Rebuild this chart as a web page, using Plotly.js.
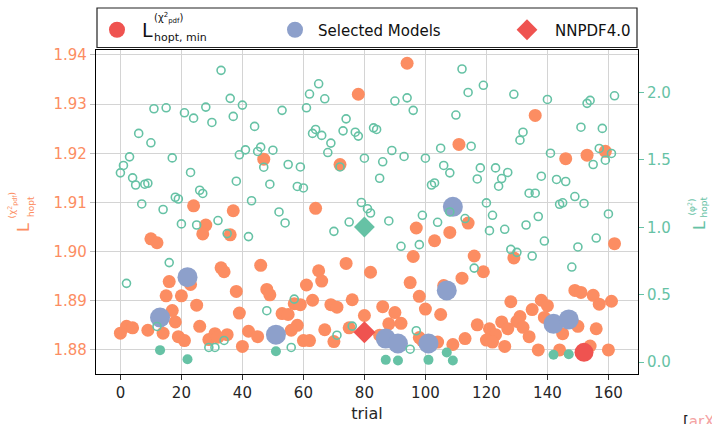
<!DOCTYPE html>
<html>
<head>
<meta charset="utf-8">
<script src="https://cdn.plot.ly/plotly-3.0.1.min.js"></script>
<style>
  html, body { margin: 0; padding: 0; background: #ffffff; }
  #chart { width: 712px; height: 424px; }
</style>
</head>
<body>
<div id="chart"></div>
<script>
// ---------------- data ----------------
// L_hopt^(chi2_pdf) for every trial (left axis, orange filled circles)
const chiTrials = [47,24,37,28,27,36,10,12,33,34,46,16,23,15,20,38,48,49,25,39,17,18,2,4,0,9,14,26,19,21,29,31,32,35,40,42,45,
  94,78,72,64,111,97,103,108,96,74,65,66,82,61,95,106,98,63,76,69,71,57,59,86,100,105,90,92,88,80,53,55,58,56,67,75,60,62,70,85,98,99,104,109,
  136,146,153,159,114,162,116,129,119,112,128,149,151,155,157,161,138,140,135,131,130,132,139,117,121,125,127,123,120,122,134,150,156,145,113,126,137,144,154,160];
const chiLoss = [1.9188,1.9093,1.9083,1.9054,1.9036,1.9034,1.9026,1.9018,1.8967,1.8959,1.8972,1.8939,1.8933,1.8910,1.8910,1.8919,1.8923,1.8912,1.8891,1.8875,1.8880,1.8857,1.8848,1.8845,1.8834,1.8840,1.8834,1.8848,1.8827,1.8819,1.8821,1.8833,1.8826,1.8831,1.8807,1.8838,1.8827,
  1.9383,1.9320,1.9177,1.9088,1.9218,1.9048,1.9022,1.9039,1.8990,1.8976,1.8961,1.8940,1.8958,1.8932,1.8937,1.8931,1.8909,1.8901,1.8902,1.8892,1.8887,1.8894,1.8892,1.8888,1.8883,1.8872,1.8876,1.8854,1.8853,1.8870,1.8874,1.8872,1.8850,1.8840,1.8841,1.8845,1.8819,1.8819,1.8817,1.8830,1.8825,1.8819,1.8816,1.8811,
  1.9277,1.9189,1.9196,1.9204,1.9058,1.9016,1.8991,1.8987,1.8959,1.8946,1.8898,1.8921,1.8917,1.8911,1.8893,1.8899,1.8901,1.8890,1.8882,1.8868,1.8858,1.8846,1.8866,1.8851,1.8843,1.8857,1.8843,1.8831,1.8820,1.8816,1.8827,1.8848,1.8843,1.8833,1.8823,1.8807,1.8800,1.8800,1.8808,1.8800];

// L_hopt^(phi2) for every trial (right axis, green open circles)
const phiTrials = [33,36,40,28,37,30,24,21,15,11,44,6,10,3,1,0,4,5,8,9,17,23,26,27,18,19,7,14,38,43,39,41,45,46,50,47,49,20,25,32,35,42,52,16,2,12,48,29,31,34,
  65,62,67,53,61,74,64,63,66,73,77,78,83,84,69,68,90,94,96,89,93,80,86,100,105,106,108,110,55,59,72,85,102,103,58,60,79,81,82,54,75,70,88,99,104,92,98,108,57,76,71,56,97,95,
  112,119,114,129,140,153,154,162,132,131,151,158,115,141,157,161,159,155,118,117,123,127,125,124,138,143,146,134,136,149,152,120,144,145,122,113,121,126,133,137,160,156,139,150,128,130,135,116,148];
const phiLoss = [2.165,1.957,1.907,1.892,1.823,1.778,1.810,1.850,1.887,1.880,1.749,1.697,1.627,1.523,1.459,1.404,1.367,1.314,1.320,1.327,1.515,1.407,1.275,1.251,1.223,1.210,1.173,1.132,1.342,1.197,1.538,1.575,1.563,1.595,1.572,1.446,1.320,1.025,1.017,1.050,0.953,0.931,1.114,0.738,0.584,0.264,0.381,0.108,0.108,0.160,
  2.065,1.989,1.954,1.868,1.887,1.805,1.726,1.697,1.682,1.716,1.706,1.677,1.738,1.726,1.625,1.555,1.937,1.961,1.868,1.570,1.526,1.513,1.486,1.513,1.587,1.459,1.404,1.833,1.466,1.448,1.448,1.364,1.314,1.329,1.303,1.292,1.184,1.138,1.106,1.032,1.039,0.970,1.047,1.089,1.037,0.859,0.871,1.114,0.467,0.266,0.199,0.108,0.232,0.095,
  2.175,2.054,2.001,1.987,1.949,1.920,1.942,1.976,1.706,1.647,1.743,1.734,1.602,1.550,1.585,1.548,1.498,1.466,1.441,1.359,1.441,1.407,1.362,1.305,1.379,1.355,1.340,1.253,1.253,1.228,1.177,1.181,1.171,1.182,1.089,1.065,0.975,0.985,1.017,1.080,1.099,0.920,0.898,0.854,0.836,0.814,0.787,0.697,0.705];

// Selected models
const selTrials = [13,22,51,87,91,101,107,109,142,147];
const selChi    = [1.8866,1.8948,1.8831,1.8823,1.8813,1.8813,1.8921,1.9091,1.8853,1.8862];
const selPhi    = [0.088,0.021,0.080,0.016,0.011,0.016,0.071,0.011,0.054,0.058];

// Minimum of L_hopt^(chi2_pdf)
const minTrial = [152];
const minChi   = [1.8795];

// NNPDF4.0 reference
const nnpdfTrial = [80];
const nnpdfChi   = [1.8836];
const nnpdfPhi   = [1.002];

// tick labels
const xTicks = [0,20,40,60,80,100,120,140,160];
const yTicks = [1.88,1.89,1.90,1.91,1.92,1.93,1.94];
const yTickText = ['1.88','1.89','1.90','1.91','1.92','1.93','1.94'];
const y2Ticks = [0,0.5,1.0,1.5,2.0];
const y2TickText = ['0.0','0.5','1.0','1.5','2.0'];

// ---------------- styling ----------------
const ORANGE = '#fc8d62', GREEN = '#66c2a5', BLUE = '#8da0cb', RED = '#ef5350';
const FONT = 'DejaVu Sans, sans-serif';
const M = {l: 96, r: 74, t: 50, b: 50};
const W = 712, H = 424;
const PW = W - M.l - M.r, PH = H - M.t - M.b;
const px = x => (x - M.l) / PW;      // pixel -> paper (layout placement only)
const py = y => (H - M.b - y) / PH;

const traces = [
  {x: chiTrials, y: chiLoss, type: 'scatter', mode: 'markers', yaxis: 'y', showlegend: false,
   marker: {color: ORANGE, size: 13, line: {width: 0}}, hoverinfo: 'skip'},
  {x: selTrials, y: selChi, type: 'scatter', mode: 'markers', yaxis: 'y', name: 'Selected Models',
   legend: 'legend2', marker: {color: BLUE, size: 20, line: {width: 0}}},
  {x: nnpdfTrial, y: nnpdfChi, type: 'scatter', mode: 'markers', yaxis: 'y', name: 'NNPDF4.0',
   legend: 'legend3', marker: {color: RED, size: 17, symbol: 'diamond', line: {width: 0}}},
  {x: minTrial, y: minChi, type: 'scatter', mode: 'markers', yaxis: 'y', name: ' ',
   legend: 'legend', marker: {color: RED, size: 19, line: {width: 0}}},
  {x: phiTrials, y: phiLoss, type: 'scatter', mode: 'markers', yaxis: 'y2', showlegend: false,
   marker: {color: GREEN, size: 8, symbol: 'circle-open', line: {width: 1.6, color: GREEN}}},
  {x: selTrials, y: selPhi, type: 'scatter', mode: 'markers', yaxis: 'y2', showlegend: false,
   marker: {color: GREEN, size: 10, line: {width: 0}}},
  {x: nnpdfTrial, y: nnpdfPhi, type: 'scatter', mode: 'markers', yaxis: 'y2', showlegend: false,
   marker: {color: GREEN, size: 16, symbol: 'diamond', line: {width: 0}}}
];

const legendCommon = {orientation: 'h', yanchor: 'middle', y: py(30), xanchor: 'left',
  bgcolor: 'rgba(0,0,0,0)', borderwidth: 0, font: {family: FONT, size: 15, color: '#111'}};

const ann = (text, x, y, size, color, angle, xanchor) => ({
  text: text, xref: 'paper', yref: 'paper', x: px(x), y: py(y), xanchor: xanchor || 'center', yanchor: 'middle',
  showarrow: false, textangle: angle || 0, font: {family: FONT, size: size, color: color}
});

const layout = {
  width: W, height: H, margin: M,
  paper_bgcolor: '#ffffff', plot_bgcolor: '#ffffff',
  font: {family: FONT, size: 15, color: '#262626'},
  showlegend: true,
  xaxis: {range: [-8, 169.7], tickvals: xTicks, ticks: 'outside', ticklen: 5, tickwidth: 1, tickcolor: '#333',
    showgrid: true, gridcolor: '#d4d4d4', gridwidth: 1, zeroline: false,
    showline: true, linecolor: '#000', linewidth: 1.2, mirror: true,
    tickfont: {family: FONT, size: 15, color: '#262626'},
    title: {text: 'trial', font: {family: FONT, size: 16, color: '#262626'}, standoff: 6}},
  yaxis: {range: [1.8751, 1.9410], tickvals: yTicks, ticktext: yTickText, ticks: 'outside', ticklen: 5, tickwidth: 1,
    tickcolor: '#bbbbbb', showgrid: true, gridcolor: '#d4d4d4', gridwidth: 1, zeroline: false,
    showline: true, linecolor: '#000', linewidth: 1.2, mirror: true,
    tickfont: {family: FONT, size: 15, color: ORANGE}},
  yaxis2: {overlaying: 'y', side: 'right', range: [-0.089, 2.316], tickvals: y2Ticks, ticktext: y2TickText,
    ticks: 'outside', ticklen: 5, tickwidth: 1, tickcolor: GREEN, showgrid: false, zeroline: false, showline: false,
    tickfont: {family: FONT, size: 15, color: GREEN}},
  legend:  Object.assign({}, legendCommon, {x: px(91), itemwidth: 42}),
  legend2: Object.assign({}, legendCommon, {x: px(272), itemwidth: 36}),
  legend3: Object.assign({}, legendCommon, {x: px(499), itemwidth: 46}),
  shapes: [
    {type: 'rect', xref: 'paper', yref: 'paper', x0: px(97), x1: px(637), y0: py(47.5), y1: py(8),
     line: {color: '#222', width: 1.2}, fillcolor: 'rgba(0,0,0,0)', layer: 'above'}
  ],
  annotations: [
    // legend label L^(chi2_pdf)_{hopt, min}
    ann('L', 147.5, 29.5, 19, '#111'),
    ann('(χ<sup>2</sup><sub>pdf</sub>)', 152, 18, 10, '#111', 0, 'left'),
    ann('hopt, min', 152, 37.5, 11, '#111', 0, 'left'),
    // left axis title
    ann('L', 23, 228, 16, ORANGE, -90),
    ann('hopt', 31, 207, 9, ORANGE, -90),
    ann('(χ<sup>2</sup><sub>pdf</sub>)', 12.5, 206, 9, ORANGE, -90),
    // right axis title
    ann('L', 699, 226, 16, GREEN, -90),
    ann('hopt', 703, 207.5, 9, GREEN, -90),
    ann('(φ<sup>2</sup>)', 691, 207.5, 9, GREEN, -90),
    // cut-off source tag
    {text: '[<span style="color:#f4a3a3">arXiv</span>', xref: 'paper', yref: 'paper', x: px(681), y: py(411),
     xanchor: 'left', yanchor: 'top', showarrow: false, font: {family: FONT, size: 15, color: '#222'}}
  ]
};

Plotly.newPlot('chart', traces, layout, {displayModeBar: false, staticPlot: true});
</script>
</body>
</html>
